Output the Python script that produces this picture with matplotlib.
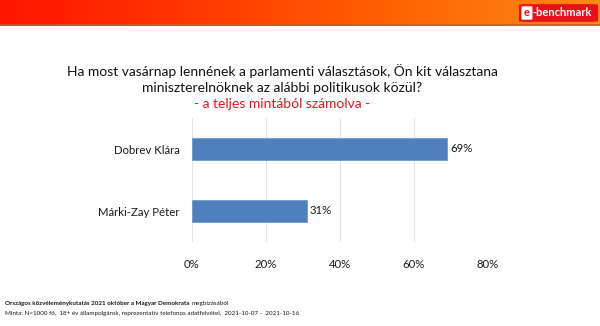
import numpy as np
import matplotlib.pyplot as plt
from matplotlib.colors import LinearSegmentedColormap
from matplotlib.patches import FancyBboxPatch

plt.rcParams['font.family'] = ['Lato', 'DejaVu Sans']

# Adatok
jeloltek = ['Dobrev Klára', 'Márki-Zay Péter']
aranyok = [0.69, 0.31]
x_ticks = [0, 0.2, 0.4, 0.6, 0.8]

W, H = 600, 326
fig = plt.figure(figsize=(W / 100, H / 100), dpi=100)
fig.patch.set_facecolor('white')

# Fejléc színátmenettel
fej = fig.add_axes([0, 1 - 26 / H, 1, 26 / H])
cmap = LinearSegmentedColormap.from_list('fej', ['#ff1500', '#ff3a00', '#ff6400', '#fb8a18'])
grad = np.linspace(0, 1, 256).reshape(1, -1)
fej.imshow(grad, aspect='auto', cmap=cmap, extent=[0, 1, 0, 1])
fej.axhline(0.02, color='#c85a3c', lw=1.2)
fej.set_xlim(0, 1)
fej.set_ylim(0, 1)
fej.axis('off')

# e-benchmark logó
asp = 26 / H * W / 26
fej.add_patch(FancyBboxPatch((519 / W, 0.16), 79 / W, 0.68, boxstyle='round,pad=0,rounding_size=0.014',
                             transform=fej.transAxes, facecolor='#e8101a', edgecolor='none',
                             mutation_aspect=asp))
fej.add_patch(FancyBboxPatch((521.5 / W, 0.24), 11 / W, 0.52, boxstyle='round,pad=0,rounding_size=0.009',
                             transform=fej.transAxes, facecolor='white', edgecolor='none',
                             mutation_aspect=asp))
fej.text(527 / W, 0.5, 'e', color='#e8101a', fontsize=8, fontweight='bold',
         ha='center', va='center', transform=fej.transAxes)
fej.text(532.5 / W, 0.5, '-benchmark', color='white', fontsize=8, fontweight='bold',
         ha='left', va='center', transform=fej.transAxes)

# Cím
cx = 282 / W
fig.text(cx, 1 - 71 / H, 'Ha most vasárnap lennének a parlamenti választások, Ön kit választana',
         ha='center', va='center', fontsize=10, color='#111111')
fig.text(cx, 1 - 88 / H, 'miniszterelnöknek az alábbi politikusok közül?',
         ha='center', va='center', fontsize=10, color='#111111')
fig.text(cx, 1 - 104 / H, '- a teljes mintából számolva -',
         ha='center', va='center', fontsize=10, color='#e8151b')

# Diagram
ax = fig.add_axes([192 / W, 1 - 242 / H, 296 / W, 124 / H])
y = np.arange(len(jeloltek))
ax.barh(y, aranyok, height=0.355, color='#4f7fbd', edgecolor='#6f9bd0', linewidth=0.6, zorder=3)
ax.set_ylim(len(jeloltek) - 0.5, -0.5)
ax.set_xlim(0, 0.8)
ax.set_xticks(x_ticks)
ax.set_xticklabels([f'{int(round(t * 100))}%' for t in x_ticks])
ax.set_yticks(y)
ax.set_yticklabels(jeloltek)
ax.grid(axis='x', color='#e3e3e3', lw=0.8, zorder=0)
for s in ax.spines.values():
    s.set_visible(False)
ax.tick_params(axis='both', length=0, labelsize=8.2, colors='#1a1a1a')
ax.tick_params(axis='x', pad=12)
ax.tick_params(axis='y', pad=9)
for yi, v in zip(y, aranyok):
    ax.text(v + 0.007, yi, f'{int(round(v * 100))}%', va='center', ha='left',
            fontsize=8.2, color='#1a1a1a')

# Lábléc
t1 = fig.text(5 / W, 1 - 303 / H, 'Országos közvéleménykutatás 2021 október a Magyar Demokrata',
              fontsize=4.5, fontweight='bold', va='center', ha='left', color='#1a1a1a')
fig.canvas.draw()
bb = t1.get_window_extent()
fig.text(bb.x1 / W + 2 / W, 1 - 303 / H, 'megbízásából', fontsize=4.5,
         va='center', ha='left', color='#1a1a1a')
fig.text(5 / W, 1 - 313 / H,
         'Minta: N=1000 fő,  18+ év állampolgárok, reprezentatív telefonos adatfelvétel,  2021-10-07 -  2021-10-16',
         fontsize=4.5, va='center', ha='left', color='#1a1a1a')

fig.savefig('out.png', dpi=100)
